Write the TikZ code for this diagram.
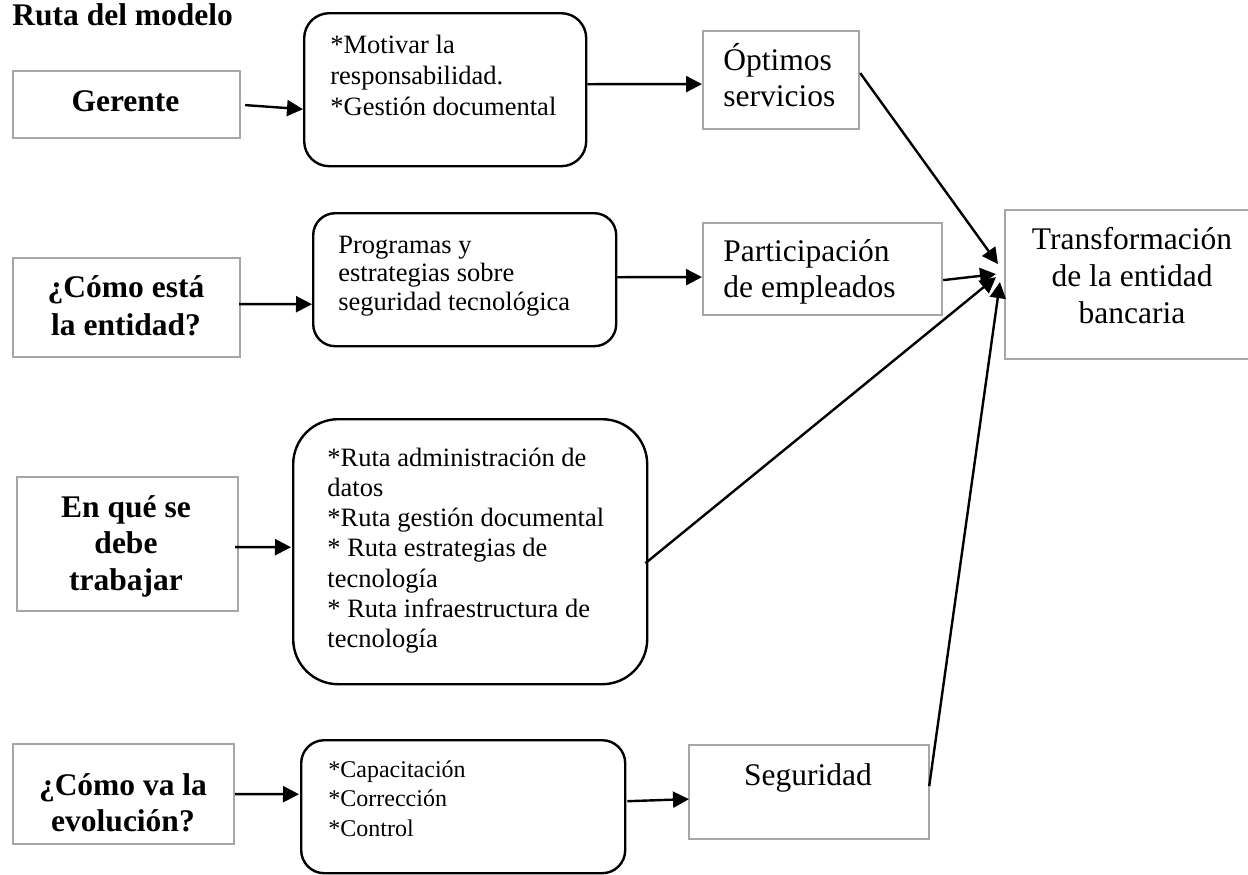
\documentclass[tikz,border=0pt]{standalone}
\usepackage{fontspec}
\setmainfont{Liberation Serif}
\usetikzlibrary{arrows.meta,calc}
\definecolor{boxgray}{RGB}{166,166,166}
\tikzset{
  gbox/.style={draw=boxgray, line width=1.1pt, inner sep=0, anchor=north west},
  rbox/.style={draw=black, line width=1.2pt, inner sep=0, anchor=north west},
  big/.style={font=\fontsize{15.75}{18.25}\selectfont},
  bigb/.style={font=\fontsize{15.75}{18.25}\selectfont\bfseries},
  small/.style={font=\fontsize{13.25}{15}\selectfont},
  ltxt/.style={inner sep=0, anchor=base west, align=flush left, text width=#1},
  ctxt/.style={inner sep=0, anchor=base, align=flush center, text width=#1},
  arr/.style={line width=1.2pt, -{Triangle[length=8pt,width=8pt]}},
}
\begin{document}
\begin{tikzpicture}[x=0.5pt,y=-0.5pt]
\clip (0,0) rectangle (1248,874);
\fill[white] (0,0) rectangle (1248,874);
% title
\node[bigb, inner sep=0, anchor=base west] (title) at (12,25) {Ruta del modelo};
% left boxes
\node[gbox, minimum width=113.5pt, minimum height=33.5pt] (gerente) at (12,70) {};
\node[gbox, minimum width=113.5pt, minimum height=49.5pt] (comoesta) at (12,257) {};
\node[gbox, minimum width=110.5pt, minimum height=67pt] (enque) at (16,476) {};
\node[gbox, minimum width=110.5pt, minimum height=50pt] (comova) at (12,743) {};
\node[bigb, ctxt=110pt] (gerente-t) at (125.5,111) {Gerente};
\node[bigb, ctxt=110pt, font=\fontsize{15.75}{19}\selectfont\bfseries] (comoesta-t) at (126,297) {¿Cómo está\\la entidad?};
\node[bigb, ctxt=110pt] (enque-t) at (126,517) {En qué se\\debe\\trabajar};
\node[bigb, ctxt=110pt] (comova-t) at (123,795) {¿Cómo va la\\evolución?};
% rounded boxes
\node[rbox, rounded corners=12.5pt, minimum width=141pt, minimum height=76.5pt] (box1) at (303,12) {};
\node[rbox, rounded corners=11pt, minimum width=151.5pt, minimum height=66.5pt] (box2) at (312,212) {};
\node[rbox, rounded corners=22.5pt, minimum width=177pt, minimum height=132.5pt] (box3) at (292,418) {};
\node[rbox, rounded corners=11.5pt, minimum width=162pt, minimum height=66.5pt] (box4) at (300,739) {};
\node[small, ltxt=135pt, font=\fontsize{13.25}{15.5}\selectfont] (box1-t) at (330,53) {*Motivar la\\{}responsabilidad.\\{}*Gestión documental};
\node[small, ltxt=140pt, font=\fontsize{13.25}{14.25}\selectfont] (box2-t) at (338,253) {Programas y\\{}estrategias sobre\\{}seguridad tecnológica};
\node[small, ltxt=155pt, font=\fontsize{13.25}{15.15}\selectfont] (box3-t) at (327,466) {*Ruta administración de\\{}datos\\{}*Ruta gestión documental\\{}* Ruta estrategias de\\{}tecnología\\{}* Ruta infraestructura de\\{}tecnología};
\node[ltxt=140pt, font=\fontsize{12}{14.75}\selectfont] (box4-t) at (328,777) {*Capacitación\\{}*Corrección\\{}*Control};
% result boxes
\node[gbox, minimum width=78pt, minimum height=49pt] (optimos) at (702,30) {};
\node[gbox, minimum width=119.5pt, minimum height=46pt] (particip) at (702,222) {};
\node[gbox, minimum width=120pt, minimum height=47pt] (seguridad) at (688,744) {};
\node[gbox, minimum width=128pt, minimum height=74.5pt] (trans) at (1004,209) {};
\node[big, ltxt=75pt] (optimos-t) at (723,70) {Óptimos\\{}servicios};
\node[big, ltxt=110pt] (particip-t) at (723,261) {Participación\\{}de empleados};
\node[big, ctxt=110pt] (seguridad-t) at (808,785) {Seguridad};
\node[big, ctxt=125pt, font=\fontsize{15.75}{18.5}\selectfont] (trans-t) at (1132,249) {Transformación\\{}de la entidad\\{}bancaria};
% connectors
\draw[arr] ($(gerente.east)+(4,0.5)$) -- ($(box1.west)+(0,19.5)$);
\draw[arr] ($(box1.east)+(0,-5.5)$) -- ($(optimos.west)+(0,4)$);
\draw[arr] ($(comoesta.east)+(-2,-3.5)$) -- ($(box2.west)+(0,24.5)$);
\draw[arr] ($(box2.east)+(0,-2.5)$) -- ($(particip.west)+(0,8)$);
\draw[arr] ($(enque.east)+(-4,3)$) -- ($(box3.west)+(-1,-4.5)$);
\draw[arr] (comova.east) -- ($(box4.west)+(-1,-12.5)$);
\draw[arr] ($(box4.east)+(1,-5.5)$) -- ($(seguridad.west)+(1,7)$);
\draw[arr] ($(optimos.east)+(0,-7)$) -- ($(trans.west)+(-6,-20.5)$);
\draw[arr] ($(particip.east)+(0,11)$) -- ($(trans.west)+(-8,-10.5)$);
\draw[arr] ($(box3.east)+(-3,11.5)$) -- ($(trans.west)+(-8,-7.5)$);
\draw[arr] ($(seguridad.east)+(-1,-6)$) -- ($(trans.west)+(-4,-2.5)$);
\end{tikzpicture}
\end{document}
